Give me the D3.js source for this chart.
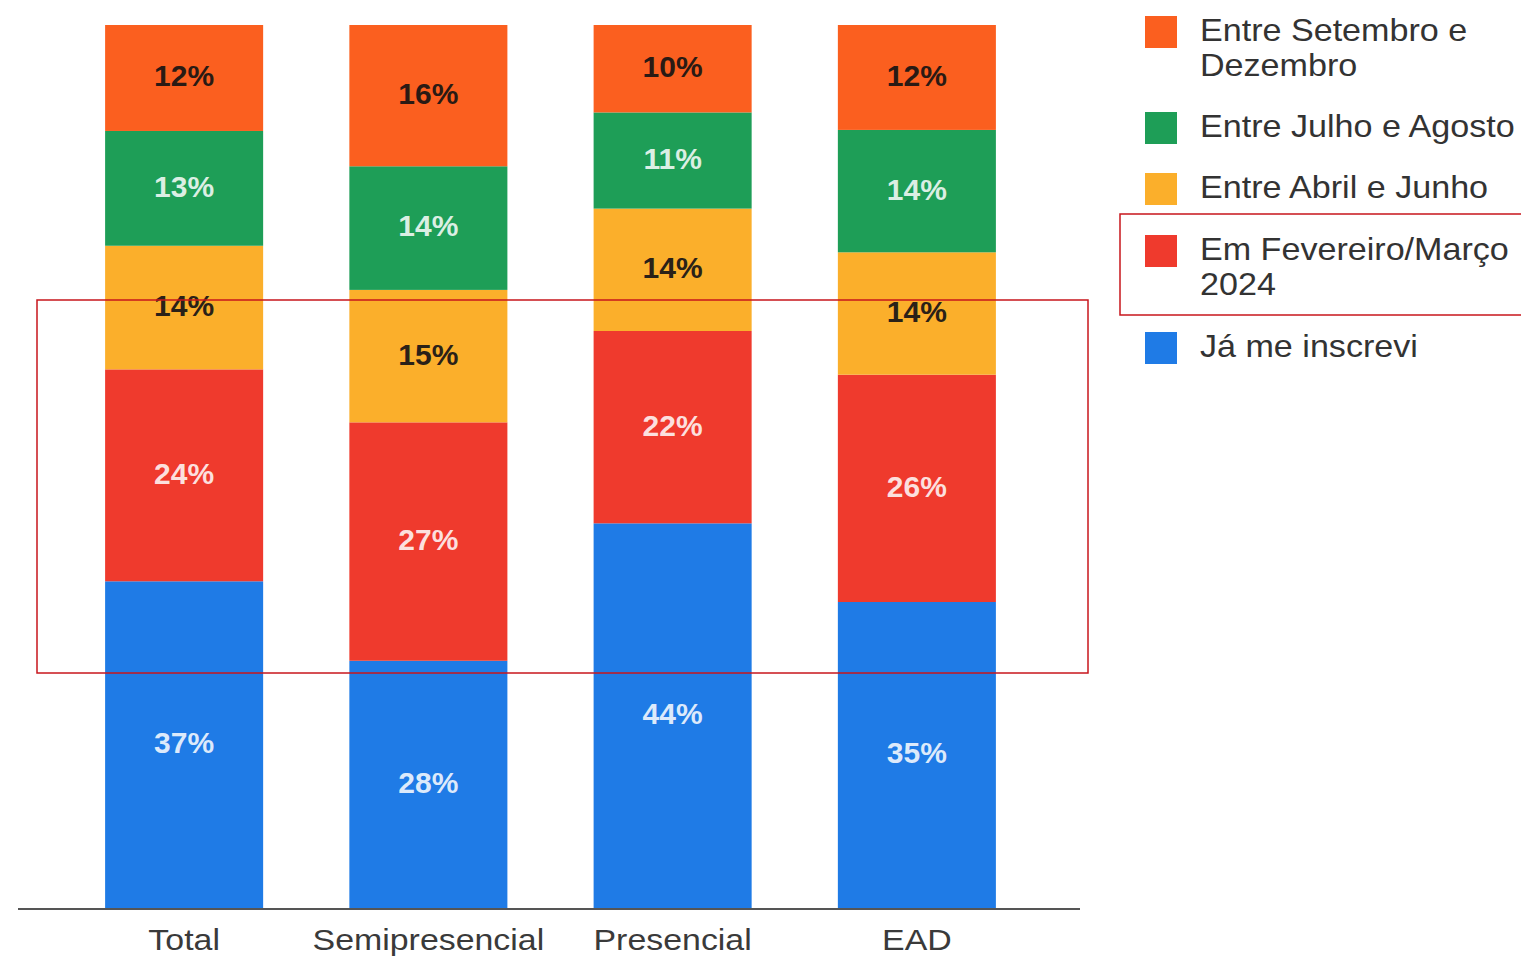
<!DOCTYPE html>
<html>
<head>
<meta charset="utf-8">
<script src="https://cdn.jsdelivr.net/npm/d3@7"></script>
<style>
  body { margin: 0; background: #fff; }
  svg { display: block; font-family: "Liberation Sans", Arial, sans-serif; }
</style>
</head>
<body>
<div id="chart"></div>
<script>
// categorias (eixo x)
const categories = ["Total", "Semipresencial", "Presencial", "EAD"];

// séries, de baixo para cima
const seriesNames = ["Já me inscrevi", "Em Fevereiro/Março 2024", "Entre Abril e Junho", "Entre Julho e Agosto", "Entre Setembro e Dezembro"];
const jaInscrevi = [37, 28, 44, 35];
const fevMar = [24, 27, 22, 26];
const abrJun = [14, 15, 14, 14];
const julAgo = [13, 14, 11, 14];
const setDez = [12, 16, 10, 12];

const colors = ["#1f7be6", "#ef3a2d", "#fbaf2b", "#1e9e57", "#fb5f1f"];
const labelColors = ["rgba(255,255,255,0.85)", "rgba(255,255,255,0.85)", "#2a2118", "rgba(255,255,255,0.85)", "#2a1a14"];

// legenda de cima para baixo
const legendOrder = [4, 3, 2, 1, 0];
const legendLines = {
  4: ["Entre Setembro e", "Dezembro"],
  3: ["Entre Julho e Agosto"],
  2: ["Entre Abril e Junho"],
  1: ["Em Fevereiro/Março", "2024"],
  0: ["Já me inscrevi"]
};

const width = 1521;
const height = 957;

const rows = categories.map((c, i) => ({
  cat: c,
  [seriesNames[0]]: jaInscrevi[i],
  [seriesNames[1]]: fevMar[i],
  [seriesNames[2]]: abrJun[i],
  [seriesNames[3]]: julAgo[i],
  [seriesNames[4]]: setDez[i]
}));

const stacked = d3.stack()
    .keys(seriesNames)
    .offset(d3.stackOffsetExpand)(rows);

const x = d3.scaleBand()
    .domain(categories)
    .range([62, 1039])
    .paddingInner(0.353)
    .paddingOuter(0.1765);

const y = d3.scaleLinear()
    .domain([0, 1])
    .range([908, 25]);

const svg = d3.select("#chart")
  .append("svg")
    .attr("width", width)
    .attr("height", height);

const layer = svg.append("g")
  .selectAll("g")
  .data(stacked)
  .join("g")
    .attr("fill", (d, i) => colors[i]);

layer.selectAll("rect")
  .data(d => d)
  .join("rect")
    .attr("x", d => x(d.data.cat))
    .attr("y", d => y(d[1]))
    .attr("width", x.bandwidth())
    .attr("height", d => y(d[0]) - y(d[1]));

// rótulos das fatias
svg.append("g")
    .attr("text-anchor", "middle")
    .attr("font-weight", "bold")
    .attr("font-size", 30)
  .selectAll("g")
  .data(stacked)
  .join("g")
    .attr("fill", (d, i) => labelColors[i])
  .selectAll("text")
  .data(d => d.map(p => ({p, v: p.data[d.key]})))
  .join("text")
    .attr("x", d => x(d.p.data.cat) + x.bandwidth() / 2)
    .attr("y", d => (y(d.p[0]) + y(d.p[1])) / 2)
    .attr("dy", "0.28em")
    .text(d => d.v + "%");

// eixo x
const xAxis = svg.append("g")
    .attr("transform", "translate(0,908)")
    .call(d3.axisBottom(x).tickSize(0).tickPadding(21));
xAxis.select(".domain").remove();
xAxis.selectAll("text")
    .attr("font-size", 30)
    .attr("font-family", "Liberation Sans, Arial, sans-serif")
    .attr("fill", "#3a3a3a")
    .attr("transform", "scale(1.13,1)");
svg.append("line")
    .attr("x1", 18).attr("x2", 1080)
    .attr("y1", 909).attr("y2", 909)
    .attr("stroke", "#555")
    .attr("stroke-width", 2);

// legenda
const legend = svg.append("g");
const legendTop = [16, 112, 173, 235, 332];
legendOrder.forEach((s, k) => {
  const g = legend.append("g").attr("transform", `translate(1145,${legendTop[k]})`);
  g.append("rect")
      .attr("width", 32).attr("height", 32)
      .attr("fill", colors[s]);
  g.append("g")
      .attr("transform", "translate(55,0) scale(1.1,1)")
    .append("text")
      .attr("y", 25)
      .attr("font-size", 31)
      .attr("fill", "#333")
    .selectAll("tspan")
    .data(legendLines[s])
    .join("tspan")
      .attr("x", 0)
      .attr("dy", (d, i) => i ? 35 : 0)
      .text(d => d);
});

// retângulos de destaque (vermelhos)
svg.append("rect")
    .attr("x", 37).attr("y", 300)
    .attr("width", 1051).attr("height", 373)
    .attr("fill", "none")
    .attr("stroke", "#c8161d")
    .attr("stroke-width", 1.5);
svg.append("rect")
    .attr("x", 1120).attr("y", 214)
    .attr("width", 410).attr("height", 101)
    .attr("fill", "none")
    .attr("stroke", "#c8161d")
    .attr("stroke-width", 1.5);
</script>
</body>
</html>
